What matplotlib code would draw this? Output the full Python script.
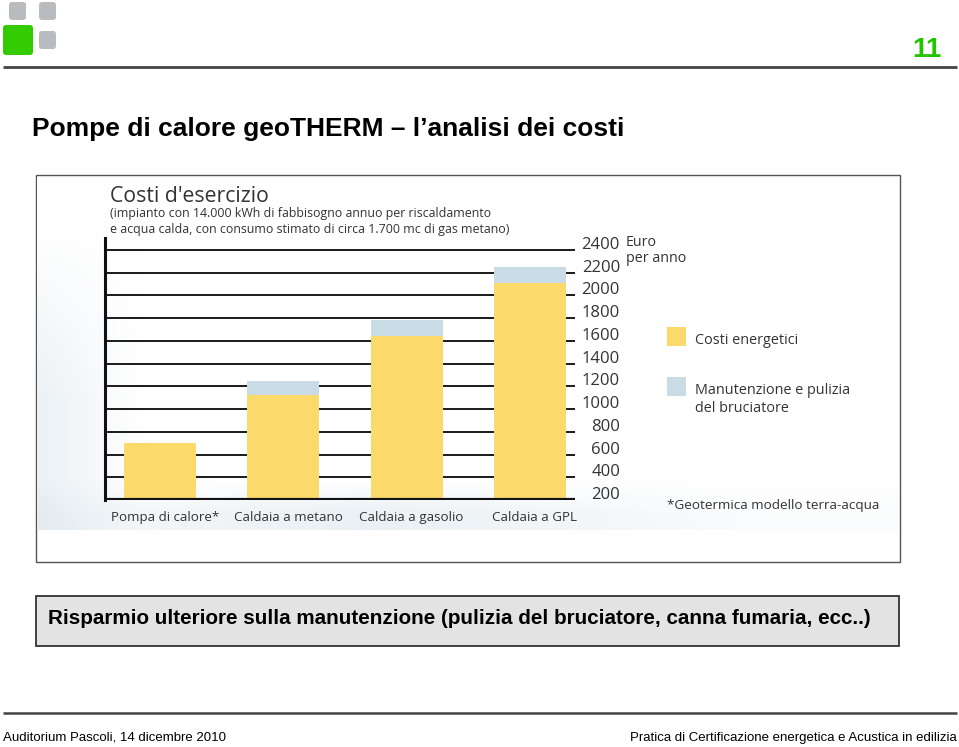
import matplotlib
matplotlib.use("Agg")
import matplotlib.pyplot as plt
import numpy as np
import matplotlib.transforms as mtransforms
from matplotlib.patches import Rectangle, FancyBboxPatch

# ---------------- data ----------------
categories = ["Pompa di calore*", "Caldaia a metano", "Caldaia a gasolio", "Caldaia a GPL"]
costi_energetici = [700, 1120, 1640, 2110]
manutenzione = [0, 130, 140, 140]
y_ticks = [200, 400, 600, 800, 1000, 1200, 1400, 1600, 1800, 2000, 2200, 2400]
axis_base = 200

W, H = 959, 747
fig = plt.figure(figsize=(W / 100, H / 100), dpi=100)
fig.patch.set_facecolor("white")

# overlay axes in pixel coordinates
ov = fig.add_axes([0, 0, 1, 1])
ov.set_xlim(0, W)
ov.set_ylim(H, 0)
ov.axis("off")

CHART_FONT = ["Open Sans", "DejaVu Sans"]
SLIDE_FONT = ["Liberation Sans", "DejaVu Sans"]
NARROW_FONT = ["Liberation Sans Narrow", "Liberation Sans", "DejaVu Sans"]
TXT = "#333333"

# logo squares
for (x, y, w, h, c) in [(9, 2, 17, 18, "#b9bcbe"), (39, 2, 17, 18, "#b9bcbe"),
                        (3, 25, 30, 30, "#33cc00"), (39, 31, 17, 18, "#b9bcbe")]:
    ov.add_patch(FancyBboxPatch((x, y), w, h, boxstyle="round,pad=0,rounding_size=3",
                                fc=c, ec="none"))

# page number
ov.text(942, 50, "11", color="#22c400", fontsize=20, fontweight="bold",
        ha="right", va="center", family=SLIDE_FONT)
# top rule
ov.plot([3, 957], [67, 67], color="#444444", lw=2, solid_capstyle="butt")

# slide title
ov.text(32, 129, "Pompe di calore geoTHERM \u2013 l\u2019analisi dei costi", color="black",
        fontsize=19, fontweight="bold", ha="left", va="center", family=SLIDE_FONT)

# image frame
ov.add_patch(Rectangle((36, 175), 864, 387, fc="white", ec="#555555", lw=1))

# soft background of the embedded picture
yy, xx = np.mgrid[0:60, 0:120]
base = np.array([1.0, 1.0, 1.0])
tint = np.array([0.86, 0.90, 0.93])
left = np.clip(1 - xx / 14.0, 0, 1) * np.clip((yy - 8) / 30.0, 0, 1) * 0.55
bottom = np.clip((yy - 51) / 6.0, 0, 1) * 0.6 * np.clip(1 - np.abs(xx - 45) / 70.0, 0.2, 1)
amt = np.clip(left + bottom, 0, 1)[..., None]
grad = base * (1 - amt) + tint * amt
ov.imshow(grad, extent=(37, 899, 530, 177), aspect="auto", interpolation="bicubic", zorder=1)

# chart title + subtitle
ov.text(110, 196, "Costi d'esercizio", fontsize=15.3, color=TXT, ha="left", va="center",
        family=CHART_FONT, zorder=3)
ov.text(110, 214, "(impianto con 14.000 kWh di fabbisogno annuo per riscaldamento",
        fontsize=8.9, color=TXT, ha="left", va="center", family=CHART_FONT, zorder=3)
ov.text(110, 229, "e acqua calda, con consumo stimato di circa 1.700 mc di gas metano)",
        fontsize=8.9, color=TXT, ha="left", va="center", family=CHART_FONT, zorder=3)

# ---------------- bar chart axes ----------------
ax_l, ax_r, ax_t, ax_b = 105, 575, 238, 500
ax = fig.add_axes([ax_l / W, (H - ax_b) / H, (ax_r - ax_l) / W, (ax_b - ax_t) / H])
ax.patch.set_alpha(0)
ax.set_zorder(5)
px_per_unit = 22.7 / 200
ax.set_ylim(axis_base, 2400 + 12 / px_per_unit)
slot = 123.3
c0 = (160 - ax_l) / slot
ax.set_xlim(-c0, -c0 + (ax_r - ax_l) / slot)

for t in y_ticks[1:]:
    ax.axhline(t, color="#1a1a1a", lw=1.4, zorder=1)
ax.axhline(axis_base, color="#111111", lw=3, zorder=4)

x = np.arange(len(categories))
bw = 72 / slot
heights_e = [v - axis_base for v in costi_energetici]
ax.bar(x, heights_e, bw, bottom=axis_base, color="#fcd96b", zorder=2, label="Costi energetici")
ax.bar(x, manutenzione, bw, bottom=costi_energetici, color="#c9dce5", zorder=2,
       label="Manutenzione e pulizia\ndel bruciatore")

for s in ["top", "right", "bottom"]:
    ax.spines[s].set_visible(False)
ax.spines["left"].set_linewidth(2.2)
ax.spines["left"].set_color("#111111")
ax.set_xticks([])
ax.set_yticks([])

# y labels on the right
tr = mtransforms.blended_transform_factory(ax.transAxes, ax.transData)
off = mtransforms.ScaledTranslation(45 / 100, 5 / 100, fig.dpi_scale_trans)
for t in y_ticks:
    ax.text(1.0, t, str(t), transform=tr + off, ha="right", va="center",
            fontsize=12, color=TXT, family=CHART_FONT, clip_on=False)

# category labels
trx = mtransforms.blended_transform_factory(ax.transData, ax.transAxes)
offc = mtransforms.ScaledTranslation(5 / 100, -21 / 100, fig.dpi_scale_trans)
for xi, c in zip(x, categories):
    ax.text(xi, 0, c, transform=trx + offc, ha="center", va="baseline", fontsize=9.6,
            color=TXT, family=CHART_FONT, clip_on=False)

# unit label
ov.text(626, 243, "Euro", fontsize=10.3, color=TXT, ha="left", va="center",
        family=CHART_FONT, zorder=3)
ov.text(626, 259, "per anno", fontsize=10.3, color=TXT, ha="left", va="center",
        family=CHART_FONT, zorder=3)

# legend
ov.add_patch(Rectangle((667, 327), 19, 19, fc="#fcd96b", ec="none", zorder=3))
ov.text(695, 341, "Costi energetici", fontsize=10.4, color=TXT, ha="left", va="center",
        family=CHART_FONT, zorder=3)
ov.add_patch(Rectangle((667, 377), 19, 19, fc="#c9dce5", ec="none", zorder=3))
ov.text(695, 391, "Manutenzione e pulizia", fontsize=10.4, color=TXT, ha="left",
        va="center", family=CHART_FONT, zorder=3)
ov.text(695, 408, "del bruciatore", fontsize=10.4, color=TXT, ha="left",
        va="center", family=CHART_FONT, zorder=3)
ov.text(667, 506, "*Geotermica modello terra-acqua", fontsize=9.7, color=TXT,
        ha="left", va="center", family=CHART_FONT, zorder=3)

# bottom box
ov.add_patch(Rectangle((36, 596), 863, 50, fc="#e3e3e3", ec="#333333", lw=1.3))
ov.text(48, 619, "Risparmio ulteriore sulla manutenzione (pulizia del bruciatore, canna fumaria, ecc..)",
        fontsize=14.9, fontweight="bold", color="black", ha="left", va="center",
        family=SLIDE_FONT)

# footer
ov.plot([3, 957], [713, 713], color="#444444", lw=1.8, solid_capstyle="butt")
ov.text(3, 738, "Auditorium Pascoli, 14 dicembre 2010", fontsize=9.5, color="black",
        ha="left", va="center", family=NARROW_FONT)
ov.text(957, 738, "Pratica di Certificazione energetica e Acustica in edilizia", fontsize=9.5,
        color="black", ha="right", va="center", family=NARROW_FONT)

fig.savefig("out.png", dpi=100, facecolor="white")
